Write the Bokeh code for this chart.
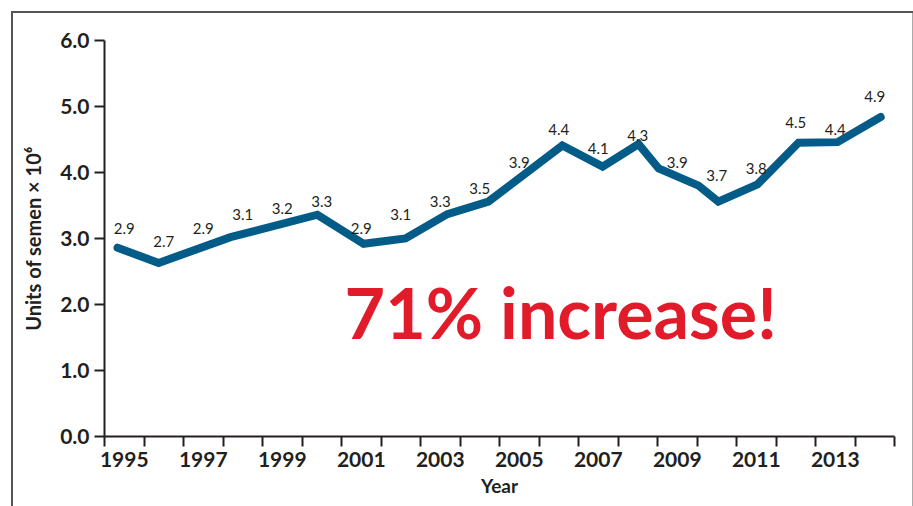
from bokeh.plotting import figure
from bokeh.models import FixedTicker, PrintfTickFormatter, Label, ColumnDataSource, Range1d
from bokeh.core.properties import value
from bokeh.embed import file_html
from bokeh.resources import INLINE

# ---- data ----
label_years = list(range(1995, 2015))
label_values = [2.9, 2.7, 2.9, 3.1, 3.2, 3.3, 2.9, 3.1, 3.3, 3.5,
                3.9, 4.4, 4.1, 4.3, 3.9, 3.7, 3.8, 4.5, 4.4, 4.9]
label_texts = ["%.1f" % v for v in label_values]

line_years = [1994.83, 1995.87, 1997.69, 1999.89, 2001.06, 2002.12, 2003.18,
              2004.22, 2006.09, 2007.11, 2008.02, 2008.53, 2009.54, 2010.04,
              2011.03, 2012.07, 2013.06, 2014.15]
line_values = [2.86, 2.63, 3.02, 3.36, 2.92, 3.00, 3.37, 3.56, 4.41, 4.09,
               4.43, 4.06, 3.80, 3.56, 3.82, 4.45, 4.46, 4.84]

x_tick_years = [1995, 1997, 1999, 2001, 2003, 2005, 2007, 2009, 2011, 2013]
x_minor_ticks = [1994.5 + i for i in range(21)]
y_ticks = [0, 1, 2, 3, 4, 5, 6]

annotation_text = "71% increase!"
x_title = "Year"
y_title = "Units of semen \u00d7 10\u2076"

DARK = "#231f20"
BLUE = "#035b88"
RED = "#e11b2a"
FONT = "Lato"

p = figure(width=913, height=506, output_backend="svg", toolbar_location=None,
           x_range=Range1d(1994.5, 2014.5), y_range=Range1d(0, 6),
           min_border_left=104, min_border_right=19, min_border_top=40,
           min_border_bottom=70)
p.border_fill_color = None
p.background_fill_color = "white"
p.outline_line_color = None
p.grid.visible = False
p.styles = {"box-shadow": "inset 11px 11px 0 0 #ffffff, inset 13px 13px 0 0 #555555, inset -1px 0 0 0 #aaaaaa"}

# line
p.line(line_years, line_values, line_color=BLUE, line_width=8,
       line_join="miter", line_cap="round")

# value labels
src = ColumnDataSource(dict(x=label_years, y=label_values, t=label_texts))
p.text(x="x", y="y", text="t", source=src, text_align="center",
       text_baseline="middle", y_offset=-17, text_font=value(FONT),
       text_font_size="15px", text_color=DARK)

# big annotation
p.add_layout(Label(x=2006.05, y=1.89, text=annotation_text, text_align="center",
                   text_baseline="alphabetic", text_font=FONT,
                   text_font_style="bold", text_font_size="70px",
                   text_color=RED))

# x axis
xa = p.xaxis[0]
xa.ticker = FixedTicker(ticks=x_tick_years, minor_ticks=x_minor_ticks)
xa.axis_label = x_title
xa.major_tick_out = 10
xa.major_tick_in = 0
xa.major_tick_line_color = None
xa.minor_tick_out = 10
xa.minor_tick_in = 0
xa.minor_tick_line_color = DARK
xa.minor_tick_line_width = 2

# y axis
ya = p.yaxis[0]
ya.ticker = FixedTicker(ticks=y_ticks, minor_ticks=[])
ya.formatter = PrintfTickFormatter(format="%.1f")
ya.axis_label = y_title
ya.major_tick_out = 10
ya.major_tick_in = 0
ya.major_tick_line_color = DARK
ya.major_tick_line_width = 2

for ax in (xa, ya):
    ax.axis_line_color = DARK
    ax.axis_line_width = 2
    ax.major_label_text_font = FONT
    ax.major_label_text_font_style = "bold"
    ax.major_label_text_font_size = "21px"
    ax.major_label_text_color = DARK
    ax.major_label_standoff = 5
    ax.axis_label_text_font = FONT
    ax.axis_label_text_font_style = "bold"
    ax.axis_label_text_font_size = "19px"
    ax.axis_label_text_color = DARK
xa.axis_label_standoff = 4
ya.axis_label_standoff = 12
ya.axis_label_text_font_size = "20px"

open("out.html", "w").write(file_html(p, INLINE))
